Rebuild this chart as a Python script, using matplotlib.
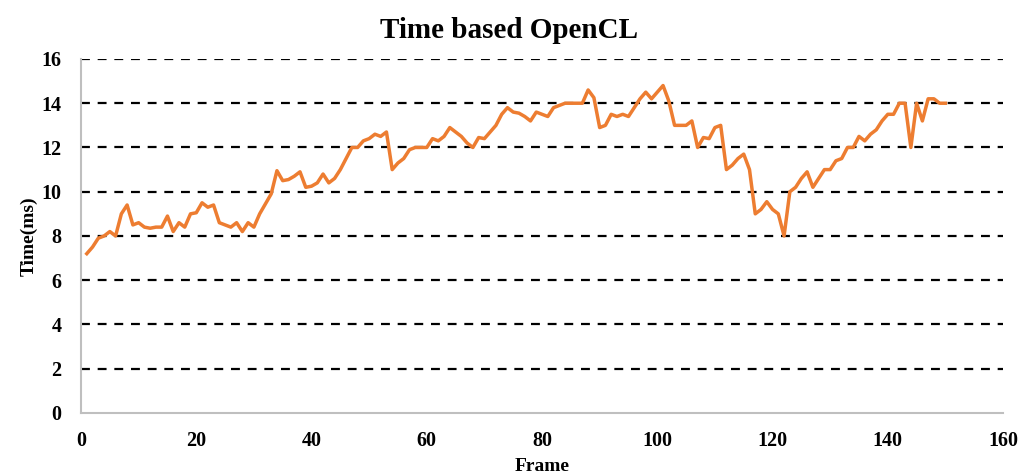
import matplotlib.pyplot as plt

# Temps par frame (ms)
frames = list(range(1, 151))
time_ms = [
    7.2, 7.5, 7.9, 8.0, 8.2, 8.0, 9.0, 9.4, 8.5, 8.6,
    8.4, 8.35, 8.4, 8.4, 8.9, 8.2, 8.6, 8.4, 9.0, 9.05,
    9.5, 9.3, 9.4, 8.6, 8.5, 8.4, 8.6, 8.2, 8.6, 8.4,
    9.0, 9.45, 9.9, 10.95, 10.5, 10.55, 10.7, 10.9, 10.2, 10.25,
    10.4, 10.8, 10.4, 10.6, 11.0, 11.5, 12.0, 12.0, 12.3, 12.4,
    12.6, 12.5, 12.7, 11.0, 11.3, 11.5, 11.9, 12.0, 12.0, 12.0,
    12.4, 12.3, 12.5, 12.9, 12.7, 12.5, 12.2, 12.0, 12.45, 12.4,
    12.7, 13.0, 13.5, 13.8, 13.6, 13.55, 13.4, 13.2, 13.6, 13.5,
    13.4, 13.8, 13.9, 14.0, 14.0, 14.0, 14.0, 14.6, 14.25, 12.9,
    13.0, 13.5, 13.4, 13.5, 13.4, 13.8, 14.2, 14.5, 14.2, 14.5,
    14.8, 14.1, 13.0, 13.0, 13.0, 13.2, 12.0, 12.45, 12.4, 12.9,
    13.0, 11.0, 11.2, 11.5, 11.7, 11.0, 9.0, 9.2, 9.55, 9.2,
    9.0, 8.0, 10.0, 10.2, 10.6, 10.9, 10.2, 10.6, 11.0, 11.0,
    11.4, 11.5, 12.0, 12.0, 12.5, 12.3, 12.6, 12.8, 13.2, 13.5,
    13.5, 14.0, 14.0, 12.0, 14.0, 13.2, 14.2, 14.2, 14.0, 14.0,
]
x_ticks = [0, 20, 40, 60, 80, 100, 120, 140, 160]
y_ticks = [0, 2, 4, 6, 8, 10, 12, 14, 16]

plt.rcParams['font.family'] = ['Liberation Serif', 'DejaVu Serif']
plt.rcParams['font.weight'] = 'bold'

fig = plt.figure(figsize=(10.36, 4.76), dpi=100)
ax = fig.add_axes([0.0782, 0.1324, 0.8900, 0.7437])

# lignes de grille horizontales en pointillés noirs
for y in y_ticks[1:]:
    ax.axhline(y, color='black', linestyle=(0, (4, 3.5)), linewidth=1.6, zorder=1)

ax.plot(frames, time_ms, color='#ED7D31', linewidth=2.5, zorder=3)

ax.set_xlim(0, 160)
ax.set_ylim(0, 16)
ax.set_xticks(x_ticks)
ax.set_yticks(y_ticks)
ax.tick_params(length=0, labelsize=14.5)
ax.tick_params(axis='y', pad=14)
ax.tick_params(axis='x', pad=13)

for side in ['top', 'right']:
    ax.spines[side].set_visible(False)
for side in ['left', 'bottom']:
    ax.spines[side].set_color('#bfbfbf')
    ax.spines[side].set_linewidth(1.5)

fig.text(0.491, 0.935, 'Time based OpenCL', fontsize=21, fontweight='bold',
         ha='center', va='center')
ax.set_xlabel('Frame', fontsize=14, fontweight='bold', labelpad=5)
ax.set_ylabel('Time(ms)', fontsize=14, fontweight='bold', labelpad=3)

fig.savefig('out.png', dpi=100)
